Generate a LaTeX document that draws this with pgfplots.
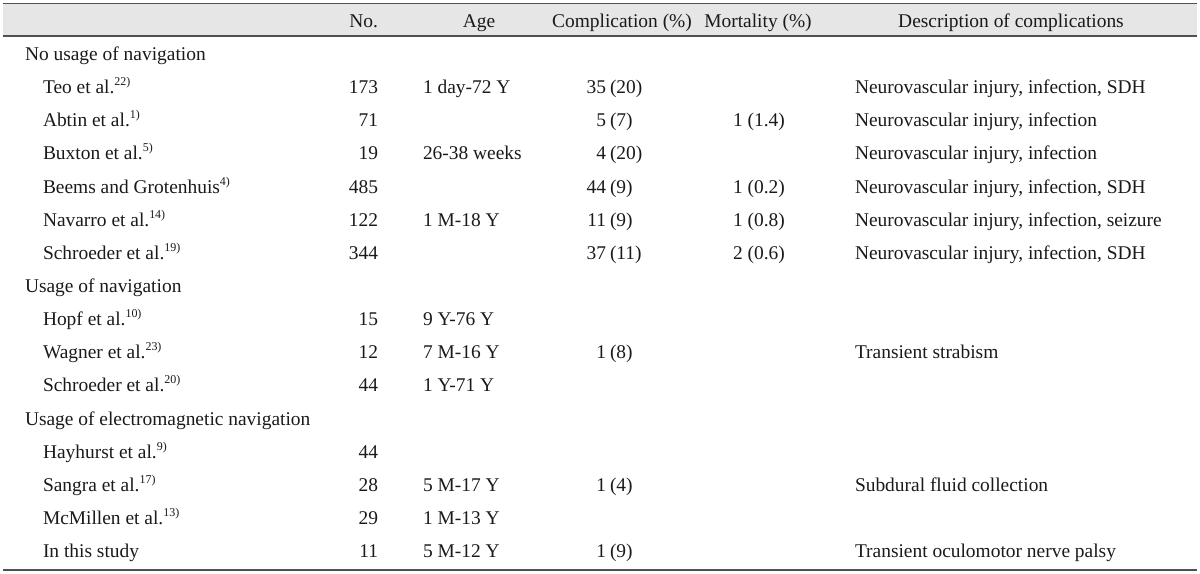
\documentclass[border=0pt]{standalone}
\usepackage{pgfplots}
\pgfplotsset{compat=1.18}
\usepackage{fontspec}
\setmainfont{Liberation Serif}
\definecolor{hdrgrey}{HTML}{E6E6E6}
\definecolor{rulegrey}{HTML}{505050}
\definecolor{txt}{HTML}{1A1A1A}
\tikzset{cell/.style={font=\fontsize{19.5}{22}\selectfont, text=txt, inner sep=0pt, outer sep=0pt}}
\newcommand\sups[1]{\textsuperscript{\fontsize{12}{12}\selectfont #1}}
% \row{y}{name}{no}{age}{comp n}{comp pct}{mortality}{description}
\newcommand\row[8]{%
  \node[cell, anchor=mid west] at (axis cs:43,#1) {#2};
  \node[cell, anchor=mid east] at (axis cs:378,#1) {#3};
  \node[cell, anchor=mid west] at (axis cs:423,#1) {#4};
  \node[cell, anchor=mid east] at (axis cs:606,#1) {#5};
  \node[cell, anchor=mid west] at (axis cs:610,#1) {#6};
  \node[cell, anchor=mid west] at (axis cs:733,#1) {#7};
  \node[cell, anchor=mid west] at (axis cs:855,#1) {#8};
}
\begin{document}
\begin{tikzpicture}
\begin{axis}[
  width=1200bp, height=573bp, scale only axis,
  xmin=0, xmax=1200, ymin=0, ymax=573, y dir=reverse,
  hide axis, clip=false,
]
\path (axis cs:0,0) rectangle (axis cs:1200,573);
\fill[hdrgrey] (axis cs:3,3.5) rectangle (axis cs:1197,36);
\draw[rulegrey, line width=1.2bp] (axis cs:3,3.5) -- (axis cs:1197,3.5);
\draw[rulegrey, line width=1.2bp] (axis cs:3,36) -- (axis cs:1197,36);
\draw[rulegrey, line width=1.2bp] (axis cs:3,570) -- (axis cs:1197,570);
% header
\node[cell, anchor=mid east] at (axis cs:378,25) {No.};
\node[cell, anchor=mid] at (axis cs:479,25) {Age};
\node[cell, anchor=mid] at (axis cs:622,25) {Complication (\%)};
\node[cell, anchor=mid] at (axis cs:758,25) {Mortality (\%)};
\node[cell, anchor=mid] at (axis cs:1011,25) {Description of complications};
% groups
\node[cell, anchor=mid west] at (axis cs:25,58) {No usage of navigation};
\node[cell, anchor=mid west] at (axis cs:25,290) {Usage of navigation};
\node[cell, anchor=mid west] at (axis cs:25,423) {Usage of electromagnetic navigation};
% rows
\row{91}{Teo et al.\sups{22)}}{173}{1 day-72 Y}{35}{(20)}{}{Neurovascular injury, infection, SDH}
\row{124}{Abtin et al.\sups{1)}}{71}{}{5}{(7)}{1 (1.4)}{Neurovascular injury, infection}
\row{157}{Buxton et al.\sups{5)}}{19}{26-38 weeks}{4}{(20)}{}{Neurovascular injury, infection}
\row{191}{Beems and Grotenhuis\sups{4)}}{485}{}{44}{(9)}{1 (0.2)}{Neurovascular injury, infection, SDH}
\row{224}{Navarro et al.\sups{14)}}{122}{1 M-18 Y}{11}{(9)}{1 (0.8)}{Neurovascular injury, infection, seizure}
\row{257}{Schroeder et al.\sups{19)}}{344}{}{37}{(11)}{2 (0.6)}{Neurovascular injury, infection, SDH}
\row{323}{Hopf et al.\sups{10)}}{15}{9 Y-76 Y}{}{}{}{}
\row{356}{Wagner et al.\sups{23)}}{12}{7 M-16 Y}{1}{(8)}{}{Transient strabism}
\row{389}{Schroeder et al.\sups{20)}}{44}{1 Y-71 Y}{}{}{}{}
\row{456}{Hayhurst et al.\sups{9)}}{44}{}{}{}{}{}
\row{489}{Sangra et al.\sups{17)}}{28}{5 M-17 Y}{1}{(4)}{}{Subdural fluid collection}
\row{522}{McMillen et al.\sups{13)}}{29}{1 M-13 Y}{}{}{}{}
\row{555}{In this study}{11}{5 M-12 Y}{1}{(9)}{}{Transient oculomotor nerve palsy}
\end{axis}
\end{tikzpicture}
\end{document}
